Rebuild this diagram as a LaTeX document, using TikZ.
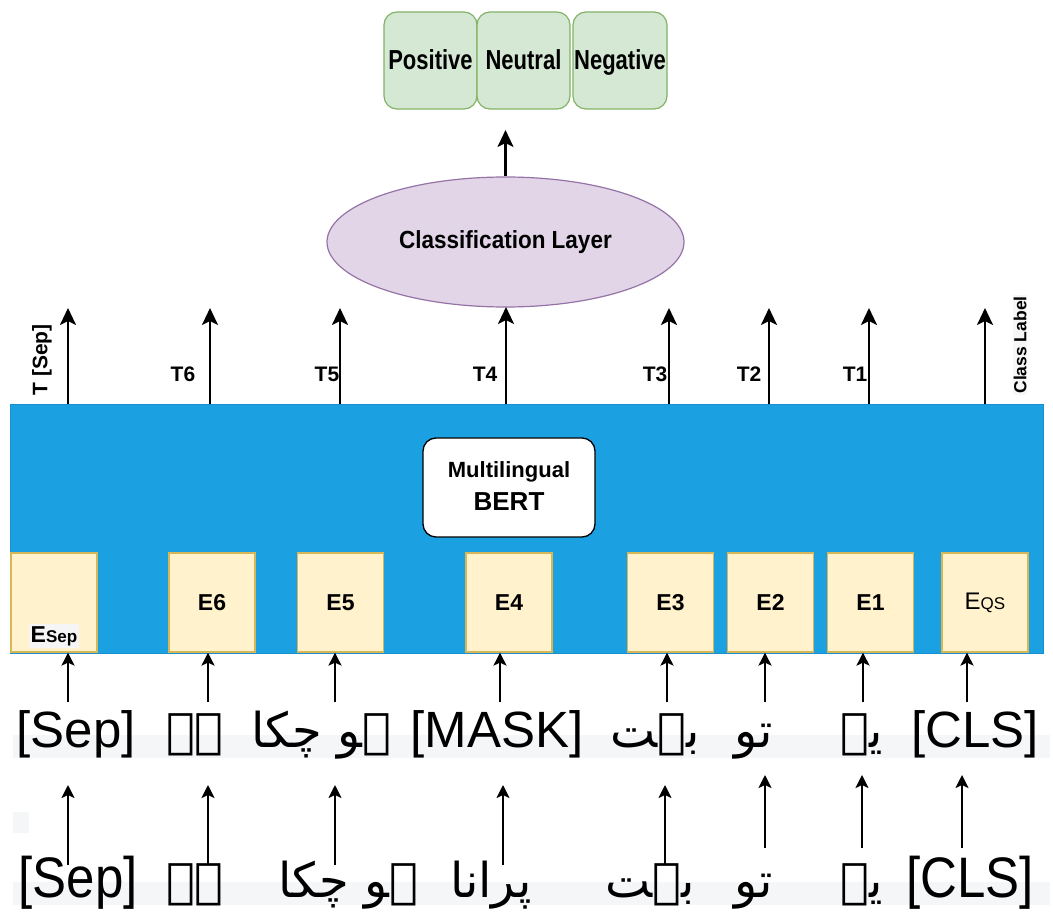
\documentclass[tikz,border=0pt]{standalone}
\usepackage{fontspec}
\setmainfont{Liberation Sans}
\newfontfamily\urdufont[Script=Arabic]{DejaVu Sans}
\TeXXeTstate=1
\usetikzlibrary{arrows.meta,shapes.geometric}
\definecolor{gfill}{HTML}{D5E8D4}
\definecolor{gline}{HTML}{82B366}
\definecolor{pfill}{HTML}{E1D5E7}
\definecolor{pline}{HTML}{9673A6}
\definecolor{bfill}{HTML}{1BA1E2}
\definecolor{bline}{HTML}{1A8FD0}
\definecolor{yfill}{HTML}{FFF2CC}
\definecolor{yline}{HTML}{D6B656}
\definecolor{band}{HTML}{F4F6F8}
\begin{document}
\begin{tikzpicture}[x=1pt,y=-1pt,
  classbox/.style={draw=gline,fill=gfill,line width=1.2pt,rounded corners=13pt,minimum width=93pt,minimum height=97pt,inner sep=0pt,text height=18pt,text depth=0pt,font=\fontsize{22}{26}\selectfont\bfseries},
  ebox/.style={draw=yline,fill=yfill,line width=1.2pt,minimum width=86pt,minimum height=99pt,inner sep=0pt,font=\fontsize{23}{27}\selectfont\bfseries},
  tlab/.style={inner sep=0pt,font=\fontsize{21}{25}\selectfont\bfseries},
  word/.style={inner sep=0pt,anchor=base,font=\fontsize{51}{60}\selectfont},
  uword/.style={inner sep=0pt,anchor=base,font=\fontsize{48}{56}\selectfont\urdufont},
  tarr/.style={line width=2.6pt,-{Stealth[length=17pt,width=16pt,inset=4pt]}},
  larr/.style={line width=2pt,-{Stealth[length=13pt,width=13pt,inset=3pt]}}]
\useasboundingbox (0,0) rectangle (1053,917);
\fill[white] (0,0) rectangle (1053,917);
% faint bands
\fill[band] (13,735) rectangle (1050,758);
\fill[band] (13,882) rectangle (1050,905);
\fill[band] (13,812) rectangle (29,833);
% class boxes
\node[classbox] (pos) at (430.5,60.5) {\scalebox{1}[1.25]{Positive}};
\node[classbox] (neu) at (523.5,60.5) {\scalebox{1}[1.25]{Neutral}};
\node[classbox,minimum width=94pt] (neg) at (620,60.5) {\scalebox{1}[1.25]{Negative}};
% classification layer
\node[ellipse,draw=pline,fill=pfill,line width=1.2pt,minimum width=357pt,minimum height=130pt,inner sep=0pt,font=\fontsize{22.5}{26}\selectfont\bfseries] (clsl) at (505.5,242) {\scalebox{1}[1.1]{Classification Layer}};
\coordinate (clstip) at (505.5,130);
\draw[tarr] (clsl.north) -- (clstip);
% BERT layer
\node[draw=bline,fill=bfill,line width=1pt,minimum width=1033pt,minimum height=248pt,inner sep=0pt] (layer) at (526.5,529) {};
\node[draw=black,fill=white,line width=1.3pt,rounded corners=13pt,minimum width=172pt,minimum height=99pt,inner sep=0pt] (bert) at (509,487.5) {};
\node[inner sep=0pt,anchor=base,font=\fontsize{22}{26}\selectfont\bfseries] (bert1) at (bert.center |- 0,477) {Multilingual};
\node[inner sep=0pt,anchor=base,font=\fontsize{26}{30}\selectfont\bfseries] (bert2) at (bert.center |- 0,510) {BERT};
% embedding boxes
\node[ebox] (esep) at (54,602.5) {};
\node[inner sep=2pt,fill=gray!8,anchor=base] (esepl) at (54,642) {\fontsize{23}{27}\selectfont\bfseries E\fontsize{17}{20}\selectfont Sep};
\node[ebox] (e6) at (212,602.5) {E6};
\node[ebox] (e5) at (340.5,602.5) {E5};
\node[ebox] (e4) at (509,602.5) {E4};
\node[ebox] (e3) at (670.5,602.5) {E3};
\node[ebox] (e2) at (770.5,602.5) {E2};
\node[ebox] (e1) at (870.5,602.5) {E1};
\node[ebox,font=\fontsize{24}{27}\selectfont] (eqs) at (985,602.5) {E\fontsize{17}{20}\selectfont QS};
% output arrows
\foreach \n/\x in {tsep/68,t6/210,t5/340,t3/669,t2/769,t1/869,tcls/985}{
  \coordinate (\n) at (\x,308);
  \draw[tarr] (\n |- layer.north) -- (\n);
}
\coordinate (t4) at (506,307);
\draw[tarr] (t4 |- layer.north) -- (t4);
% output labels
\node[tlab,rotate=90] (ltsep) at (42,360) {T [Sep]};
\node[tlab,anchor=base] (lt6) at (183,382) {T6};
\node[tlab,anchor=base] (lt5) at (327,382) {T5};
\node[tlab,anchor=base] (lt4) at (485,382) {T4};
\node[tlab,anchor=base] (lt3) at (655,382) {T3};
\node[tlab,anchor=base] (lt2) at (749,382) {T2};
\node[tlab,anchor=base] (lt1) at (855,382) {T1};
\node[inner sep=1pt,fill=gray!6,rotate=90,font=\fontsize{17.5}{20}\selectfont\bfseries] (lcls) at (1020,345) {Class Label};
% first row of words
\node[word] (ra1) at (76,747) {[Sep]};
\node[uword] (ra2) at (195,747) {\beginR ہے\endR};
\node[uword] (ra3) at (321,747) {\beginR ہو چکا\endR};
\node[word] (ra4) at (497,747) {[MASK]};
\node[uword] (ra5) at (655,747) {\beginR بہت\endR};
\node[uword] (ra6) at (754,747) {\beginR تو\endR};
\node[uword] (ra7) at (862,747) {\beginR یہ\endR};
\node[word] (ra8) at (975,747) {[CLS]};
% second row of words
\node[word] (rb1) at (78,897) {\scalebox{1}[1.12]{[Sep]}};
\node[uword] (rb2) at (195,897) {\beginR ہے\endR};
\node[uword] (rb3) at (348,897) {\beginR ہو چکا\endR};
\node[uword] (rb4) at (491,897) {\beginR پرانا\endR};
\node[uword] (rb5) at (650,897) {\beginR بہت\endR};
\node[uword] (rb6) at (754,897) {\beginR تو\endR};
\node[uword] (rb7) at (862,897) {\beginR یہ\endR};
\node[word] (rb8) at (970,897) {\scalebox{1}[1.12]{[CLS]}};
% arrows row 1 -> embeddings
\foreach \n/\x/\b in {ua1/68/esep,ua2/208/e6,ua3/335/e5,ua4/500/e4,ua5/667/e3,ua6/765/e2,ua7/863/e1,ua8/967/eqs}{
  \coordinate (\n) at (\x,702);
  \draw[larr] (\n) -- (\n |- \b.south);
}
% arrows row 2 -> row 1
\foreach \n/\x in {ub1/68,ub2/208,ub3/335,ub4/503,ub5/665}{
  \coordinate (\n) at (\x,865);
  \coordinate (\n t) at (\x,785);
  \draw[larr] (\n) -- (\n t);
}
\foreach \n/\x in {ub6/765,ub7/862,ub8/962}{
  \coordinate (\n) at (\x,848);
  \coordinate (\n t) at (\x,775);
  \draw[larr] (\n) -- (\n t);
}
\end{tikzpicture}
\end{document}
